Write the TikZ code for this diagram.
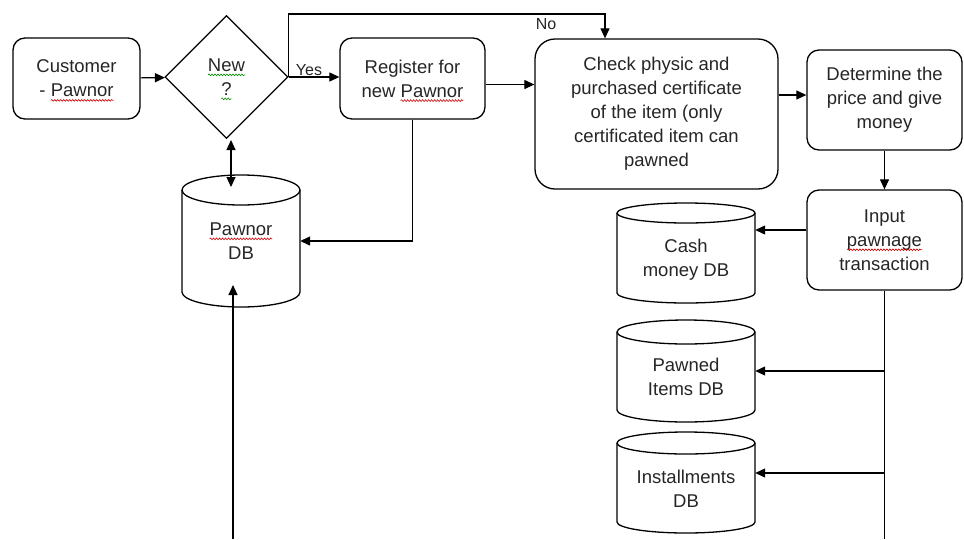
\documentclass[tikz,border=0pt]{standalone}
\usepackage{fontspec}
\setmainfont{Liberation Sans}
\usetikzlibrary{shapes.geometric,arrows.meta,decorations.pathmorphing}
\newsavebox\sqbox
\newcommand\sq[2][red!80!black]{\sbox\sqbox{#2}\usebox\sqbox\tikz[overlay,baseline=0pt,x=1pt,y=1pt,sharp corners]\draw[#1,sharp corners,line width=0.6pt,decorate,decoration={snake,amplitude=0.9pt,segment length=3pt}] (-\wd\sqbox,-3.5) -- (0,-3.5);}
\newcommand\dbcyl[7]{%
  \draw[dbline] (#2-#4,#3-#5+#6) -- (#2-#4,#3+#5-#6)
    arc[start angle=180,end angle=0,x radius=#4,y radius=#6]
    -- (#2+#4,#3-#5+#6)
    arc[start angle=0,end angle=-180,x radius=#4,y radius=#6] -- cycle;
  \draw[dbline] (#2-#4,#3-#5+#6) arc[start angle=180,end angle=0,x radius=#4,y radius=#6];
  \node[dbtext,minimum width=2*#4,minimum height=2*#5] (#1) at (#2,#3) {#7};
}
\begin{document}
\begin{tikzpicture}[x=1pt,y=-1pt,
  txt/.style={text=black!85,font=\fontsize{18.5}{24}\selectfont,align=center},
  box/.style={txt,draw,line width=1.3pt,rounded corners=12pt,inner sep=2pt},
  dbline/.style={line width=1.3pt,fill=white},
  dbtext/.style={txt,inner sep=0pt},
  ln/.style={line width=1.2pt},
  arr/.style={ln,-{Triangle[length=10pt,width=9pt]}},
  lbl/.style={text=black!85,font=\fontsize{16}{18}\selectfont,inner sep=0pt}
  ]
\fill[white] (0,0) rectangle (964,539);
\useasboundingbox (0,0) rectangle (964,539);

% process boxes
\node[box,minimum width=127,minimum height=81] (cust) at (76.5,78.5) {Customer\\- \sq{Pawnor}};
\node[txt,draw,line width=1.3pt,diamond,aspect=1,minimum width=123,minimum height=123,inner sep=0pt] (new) at (226.5,77) {\sq[green!55!black]{New}\\\sq[green!55!black]{?}};
\node[box,minimum width=145,minimum height=81] (reg) at (412.5,78.5) {Register for\\new \sq{Pawnor}};
\node[box,rounded corners=20pt,minimum width=243,minimum height=150] (chk) at (656.5,114)
  {Check physic and\\purchased certificate\\of the item (only\\certificated item can\\pawned};
\node[box,minimum width=155,minimum height=100] (det) at (884.5,100) {Determine the\\price and give\\money};
\node[box,minimum width=155,minimum height=100] (inp) at (884.5,240) {Input\\\sq{pawnage}\\transaction};

% databases
\dbcyl{pdb}{241}{241}{59}{66}{15}{\sq{Pawnor}\\DB}
\dbcyl{cash}{686}{253}{69}{50}{10}{\\[2pt]Cash\\money DB}
\dbcyl{pit}{686}{371}{69}{51}{12}{\\[2pt]Pawned\\Items DB}
\dbcyl{inst}{686}{482.5}{69}{50.5}{11}{\\[2pt]Installments\\DB}

% connectors
\draw[arr] (cust) -- (new);
\draw[arr] (new.east) -- (new.east -| reg.west);
\node[lbl] (yes) at (309,70) {Yes};
\coordinate (noturn) at (605,14);
\draw[arr] (new.east) |- (noturn) -- (noturn |- chk.north);
\node[lbl] (no) at (546,24) {No};
\draw[arr] ([yshift=-6pt]reg.east) -- ([yshift=-6pt]reg.east -| chk.west);
\draw[arr] ([yshift=5pt]det.west -| chk.east) -- ([yshift=5pt]det.west);
\draw[arr] (det.south) -- (inp.north);
\draw[arr] ([yshift=10pt]inp.west) -- ([yshift=10pt]inp.west -| cash.east);
\coordinate (rbot) at (883,539);
\draw[ln] (inp.south) -- (inp.south |- rbot);
\draw[arr] (inp.south |- pit.east) -- (pit.east);
\draw[arr] (inp.south |- 0,473) -- (inst.east |- 0,473);
\draw[arr] (reg.south) |- (pdb.east);
\coordinate (dtop) at (231,140);
\coordinate (dbot) at (231,187);
\draw[ln,{Triangle[length=10pt,width=9pt]}-{Triangle[length=10pt,width=9pt]}] (dtop) -- (dbot);
\coordinate (lbot) at (233,539);
\coordinate (ltip) at (233,285);
\draw[arr] (lbot) -- (ltip);
\end{tikzpicture}
\end{document}
